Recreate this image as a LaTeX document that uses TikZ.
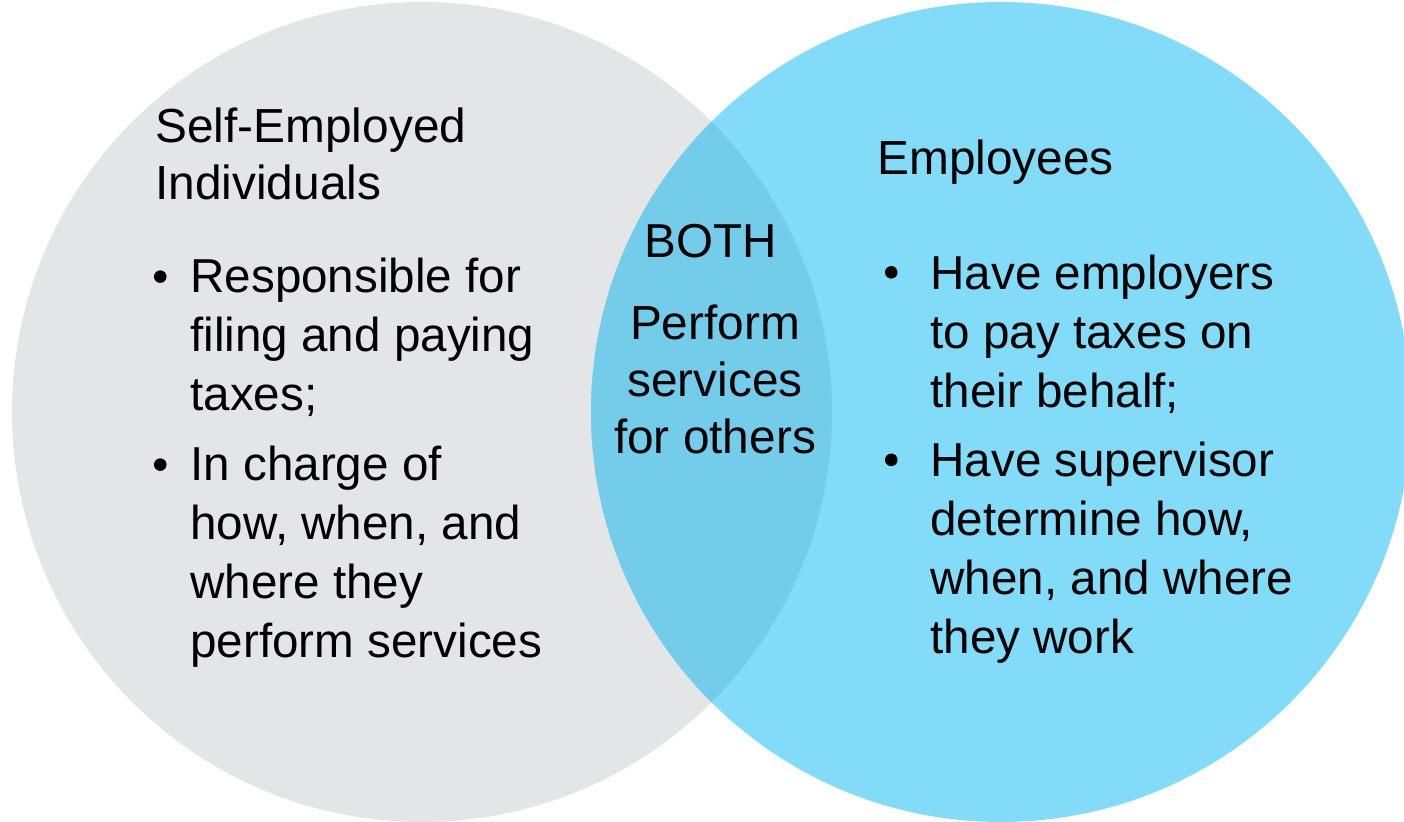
\documentclass[tikz,border=0pt]{standalone}
\usepackage{fontspec}
\setmainfont{Liberation Sans}
\usetikzlibrary{positioning}

\definecolor{selfgray}{HTML}{E4E5E7}
\definecolor{empblue}{HTML}{82DBF8}
\definecolor{bothblue}{HTML}{73CDEA}

\tikzset{
  vhead/.style={inner sep=0pt, align=left, font=\fontsize{23.9}{28.5}\selectfont},
  vtext/.style={inner sep=0pt, align=left, font=\fontsize{23.8}{29.5}\selectfont},
  dot/.style={circle, fill=black, inner sep=0pt, minimum size=6.3pt},
}

\begin{document}
\begin{tikzpicture}[x=0.5pt,y=0.5pt]
      \clip (0,0) rectangle (1404,-822);
      \coordinate (SelfC) at (422,-412);
      \coordinate (EmpC) at (1001,-412);
      \fill[selfgray] (SelfC) circle[radius=410];
      \fill[empblue] (EmpC) circle[radius=410];
      \begin{scope}
        \clip (SelfC) circle[radius=410];
        \fill[bothblue] (EmpC) circle[radius=410];
      \end{scope}

      % left circle (nodes sit on the baseline of their last line)
      \node[vhead, anchor=base west] (SelfHead) at (155,-200) {Self-Employed\\Individuals};
      \node[vtext, anchor=base west] (SelfA) at (190,-411) {Responsible for\\filing and paying\\taxes;};
      \node[vtext, anchor=base west] (SelfB) at (190,-658) {In charge of\\how, when, and\\where they\\perform services};
      \node[dot, on grid, below left=6.9pt and 12.5pt of SelfA.north west] (SelfDotA) {};
      \node[dot, on grid, below left=6.9pt and 12.5pt of SelfB.north west] (SelfDotB) {};

      % overlap
      \node[vtext, anchor=base] (Both) at (711,-258) {BOTH};
      \node[vhead, align=center, anchor=base] (Shared) at (715,-454) {Perform\\services\\for others};

      % right circle
      \node[vhead, anchor=base west] (EmpHead) at (877,-175) {Employees};
      \node[vtext, anchor=base west] (EmpA) at (930,-407.5) {Have employers\\to pay taxes on\\their behalf;};
      \node[vtext, anchor=base west] (EmpB) at (930,-654) {Have supervisor\\determine how,\\when, and where\\they work};
      \node[dot, on grid, below left=6.5pt and 17pt of EmpA.north west] (EmpDotA) {};
      \node[dot, on grid, below left=6.5pt and 17pt of EmpB.north west] (EmpDotB) {};
\end{tikzpicture}
\end{document}
